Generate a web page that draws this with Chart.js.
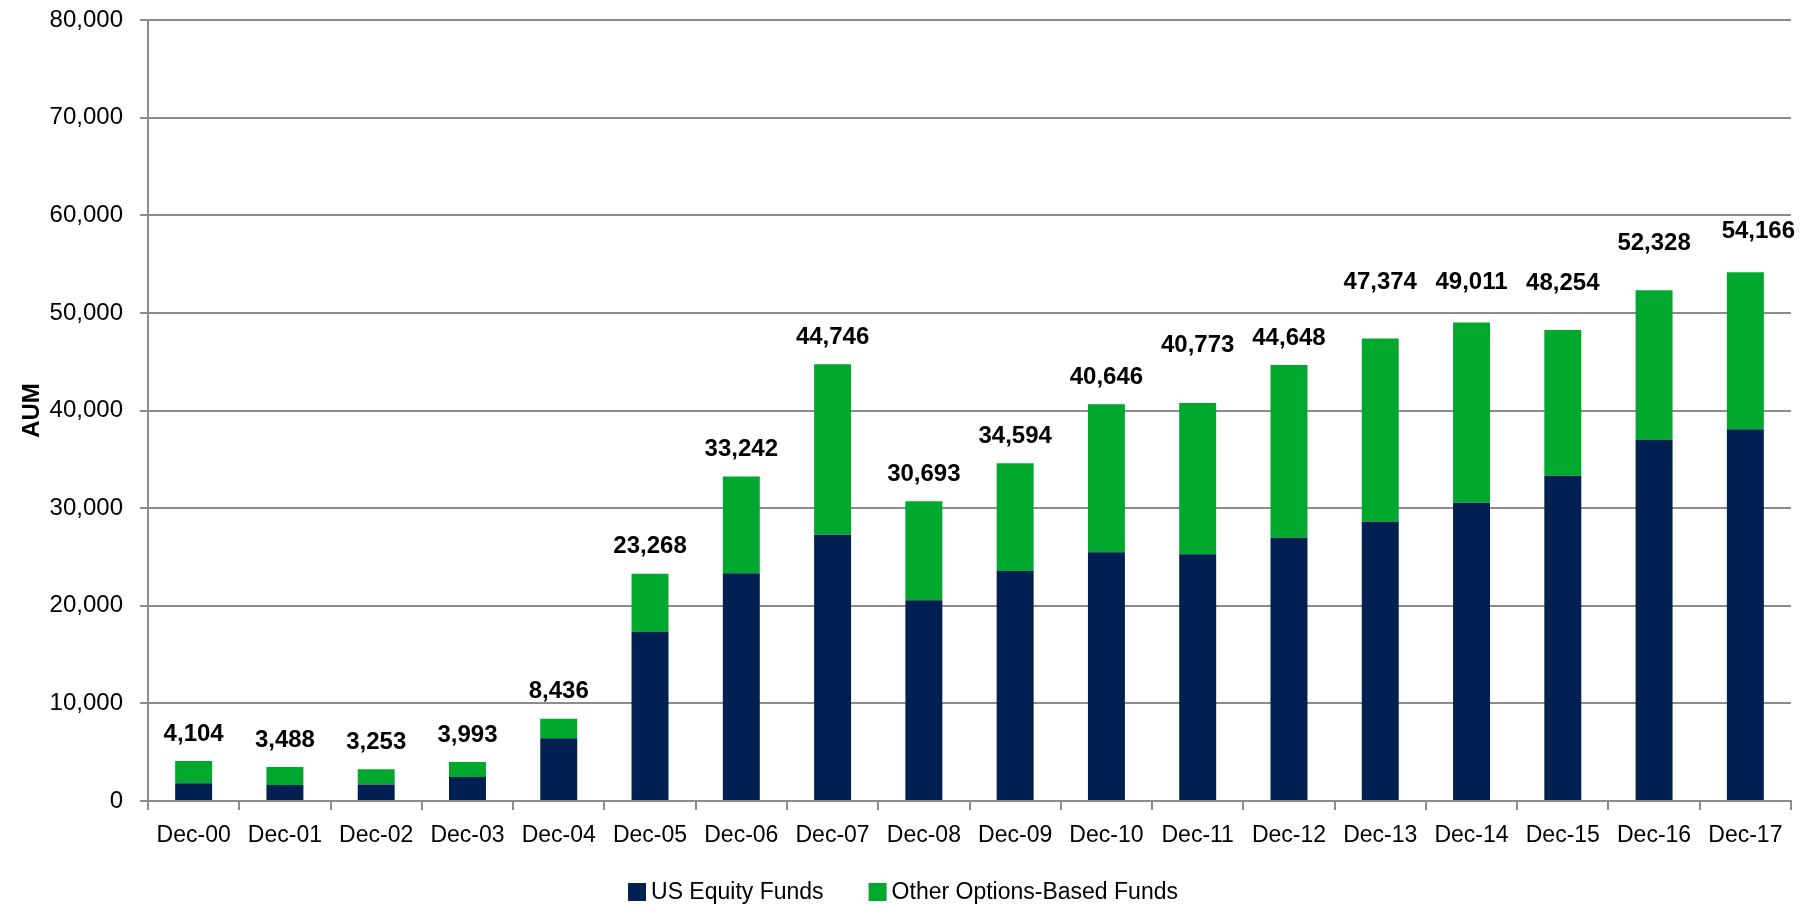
<!DOCTYPE html>
<html>
<head>
<meta charset="utf-8">
<title>AUM</title>
<script src="https://cdn.jsdelivr.net/npm/chart.js@4.4.1/dist/chart.umd.min.js"></script>
<style>
  html, body { margin: 0; padding: 0; background: #fff; }
  canvas { display: block; }
</style>
</head>
<body>
<canvas id="aum" width="1814" height="907"></canvas>
<script>
const years = ['Dec-00', 'Dec-01', 'Dec-02', 'Dec-03', 'Dec-04', 'Dec-05', 'Dec-06', 'Dec-07', 'Dec-08',
  'Dec-09', 'Dec-10', 'Dec-11', 'Dec-12', 'Dec-13', 'Dec-14', 'Dec-15', 'Dec-16', 'Dec-17'];

// total AUM per year (the number printed above each stack)
const totalAum = [4104, 3488, 3253, 3993, 8436, 23268, 33242, 44746, 30693,
  34594, 40646, 40773, 44648, 47374, 49011, 48254, 52328, 54166];

// US equity part of each stack
const usEquity = [1820, 1630, 1700, 2450, 6430, 17310, 23340, 27260, 20560,
  23550, 25490, 25280, 26970, 28600, 30550, 33310, 36990, 38090];

// everything else sits on top
const otherOptions = totalAum.map((t, i) => t - usEquity[i]);

const yMin = 0;
const yMax = 80000;
const yStep = 10000;

const NAVY = '#012052';
const GREEN = '#00a82d';
const GREY = '#8c8c8c';
const FONT = '"Liberation Sans", Arial, sans-serif';

Chart.defaults.font.family = FONT;
Chart.defaults.color = '#000';

const fmt = v => Number(v).toLocaleString('en-US');

// totals above the stacks
const totalLabels = {
  id: 'totalLabels',
  afterDatasetsDraw(chart, args, opts) {
    const { ctx } = chart;
    const topMeta = chart.getDatasetMeta(1);
    ctx.save();
    ctx.font = 'bold 24px ' + FONT;
    ctx.fillStyle = '#000';
    ctx.textAlign = 'center';
    ctx.textBaseline = 'middle';
    topMeta.data.forEach((bar, i) => {
      const gap = opts.gaps[i] || 27;
      const dx = opts.shiftX[i] || 0;
      ctx.fillText(fmt(totalAum[i]), bar.x + dx, bar.y - gap);
    });
    ctx.restore();
  }
};

// legend row under the axis: tight box/text gap, wide gap between entries
const bottomLegend = {
  id: 'bottomLegend',
  afterDraw(chart, args, opts) {
    const { ctx } = chart;
    const sets = chart.data.datasets;
    ctx.save();
    ctx.font = opts.fontSize + 'px ' + FONT;
    ctx.textBaseline = 'middle';
    ctx.textAlign = 'left';
    const widths = sets.map(ds => ctx.measureText(ds.label).width);
    const total = widths.reduce((s, w) => s + opts.box + opts.textGap + w, 0) + opts.itemGap * (sets.length - 1);
    let x = (chart.width - total) / 2 - 4;
    const y = opts.y;
    sets.forEach((ds, i) => {
      ctx.fillStyle = ds.backgroundColor;
      ctx.fillRect(x, y - opts.box / 2, opts.box, opts.box);
      x += opts.box + opts.textGap;
      ctx.fillStyle = '#000';
      ctx.fillText(ds.label, x, y + 1);
      x += widths[i] + opts.itemGap;
    });
    ctx.restore();
  }
};

new Chart(document.getElementById('aum'), {
  type: 'bar',
  data: {
    labels: years,
    datasets: [
      { label: 'US Equity Funds', data: usEquity, backgroundColor: NAVY, borderWidth: 0 },
      { label: 'Other Options-Based Funds', data: otherOptions, backgroundColor: GREEN, borderWidth: 0 }
    ]
  },
  options: {
    responsive: false,
    animation: false,
    events: [],
    layout: { padding: { top: 20, right: 23, bottom: 0, left: 0 } },
    datasets: { bar: { categoryPercentage: 1, barPercentage: 0.405 } },
    plugins: {
      tooltip: { enabled: false },
      legend: { display: false },
      bottomLegend: { fontSize: 23, box: 18, textGap: 5, itemGap: 45, y: 892 },
      totalLabels: {
        gaps: { 11: 58, 13: 56, 14: 40, 15: 47, 16: 47, 17: 41 },
        shiftX: { 17: 13 }
      }
    },
    scales: {
      x: {
        stacked: true,
        grid: { display: true, drawOnChartArea: false, offset: true, tickLength: 9, color: GREY, lineWidth: 2 },
        border: { color: GREY, width: 2 },
        ticks: { color: '#000', font: { size: 23 }, padding: 12, maxRotation: 0, autoSkip: false },
        afterFit(scale) {
          scale.height = 907 - 801;
          scale.paddingLeft = 0;
          scale.paddingRight = 0;
        }
      },
      y: {
        stacked: true,
        min: yMin,
        max: yMax,
        ticks: { stepSize: yStep, color: '#000', font: { size: 24 }, padding: 17, callback: v => fmt(v) },
        grid: { color: GREY, lineWidth: 2, tickLength: 8 },
        border: { color: GREY, width: 2 },
        title: {
          display: true,
          text: 'AUM',
          color: '#000',
          font: { size: 24, weight: 'bold' },
          padding: { top: 18, bottom: 0 }
        },
        afterFit(scale) {
          scale.width = 148;
          scale.paddingTop = 0;
          scale.paddingBottom = 0;
        }
      }
    }
  },
  plugins: [totalLabels, bottomLegend]
});
</script>
</body>
</html>
